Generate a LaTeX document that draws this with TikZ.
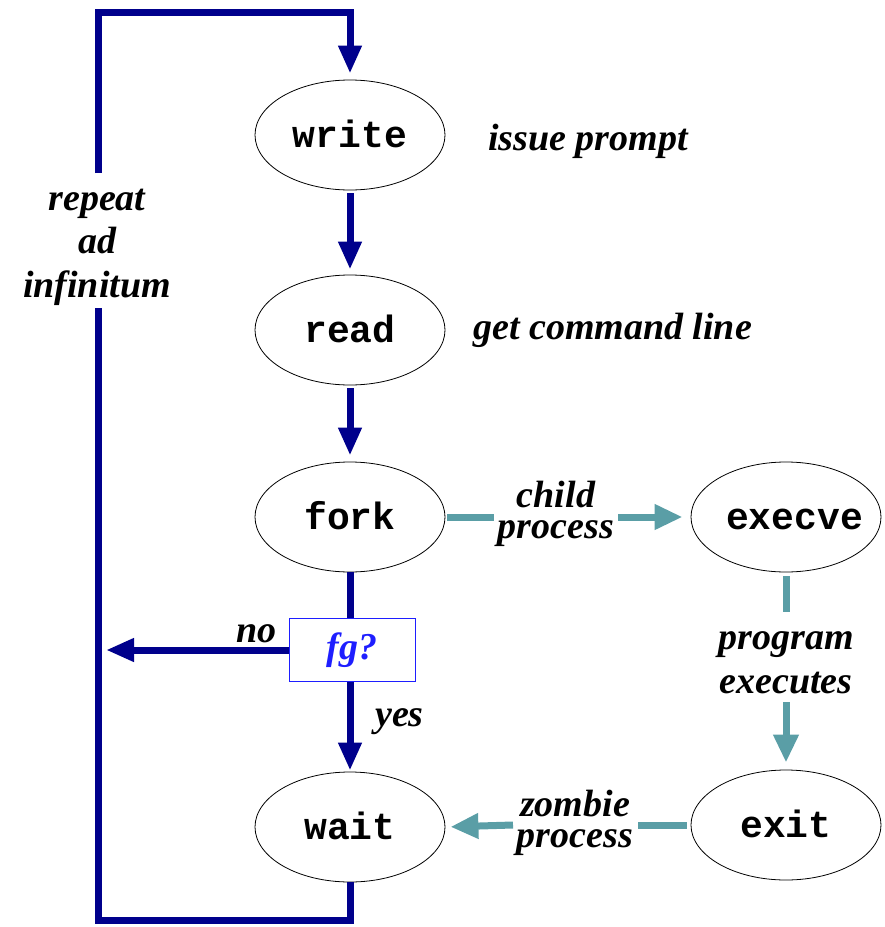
\documentclass[tikz,border=0pt]{standalone}
\usepackage{fontspec}
\setmainfont{Liberation Serif}
\newfontfamily\codefont{Liberation Mono}
\usetikzlibrary{arrows.meta,shapes.geometric}
\definecolor{loopblue}{RGB}{0,0,140}
\definecolor{tealc}{RGB}{90,158,166}
\definecolor{fgblue}{RGB}{30,30,255}
\begin{document}
\begin{tikzpicture}[x=1pt,y=-1pt,
  proc/.style={ellipse, draw=black, line width=0.8pt, minimum width=190pt, minimum height=110pt,
    inner sep=0pt, text width=120pt, align=center, text height=24pt, text depth=0pt,
    font=\codefont\bfseries\fontsize{38}{44}\selectfont},
  lbl/.style={font=\bfseries\itshape\fontsize{38}{43.5}\selectfont, align=center, inner sep=0pt},
  tightlbl/.style={font=\bfseries\itshape\fontsize{38}{31}\selectfont, align=center, inner sep=0pt},
  blueline/.style={draw=loopblue, line width=7pt, line join=miter},
  bluearrow/.style={blueline, -{Triangle[length=28pt,width=22pt]}},
  tealline/.style={draw=tealc, line width=7pt},
  tealarrow/.style={tealline, -{Triangle[length=28pt,width=24pt]}},
  question/.style={draw=fgblue, line width=1pt, minimum width=126pt, minimum height=63pt, inner sep=0pt,
    text=fgblue, font=\bfseries\itshape\fontsize{38}{44}\selectfont}
]
\useasboundingbox (0,0) rectangle (885,927);

% process nodes
\node[proc] (write)  at (350,135) {write};
\node[proc] (read)   at (350,330) {read};
\node[proc] (fork)   at (350,517) {fork};
\node[proc] (wait)   at (350,827) {wait};
\node[proc] (execve) at (786,517) {execve};
\node[proc] (exit)   at (786,825) {exit};
\node[question] (fg) at (352,650) {fg?};

% helper coordinates
\coordinate (lbot) at (98,920);
\coordinate (ltop) at (98,12);
\coordinate (gapb) at (98,308);
\coordinate (gapt) at (98,173);
\coordinate (noend) at (106,650);
\coordinate (ch1) at (494,517);
\coordinate (ch2) at (618,517);
\coordinate (pg1) at (786,612);
\coordinate (pg2) at (786,702);
\coordinate (zb1) at (638,825);
\coordinate (zb2) at (513,825);

% main loop
\draw[blueline] (wait.south) |- (lbot) -- (gapb);
\draw[bluearrow, shorten >=6pt] (gapt) -- (ltop) -| (write.north);
\draw[bluearrow, shorten <=3pt, shorten >=5pt] (write.south) -- (read.north);
\draw[bluearrow, shorten <=3pt, shorten >=6pt] (read.south) -- (fork.north);
\draw[blueline] (fork.south) -- (fork.south |- fg.north);
\draw[bluearrow, shorten >=1pt] (wait.north |- fg.south) -- (wait.north);
\draw[bluearrow] (fg.west) -- (noend);

% teal connectors
\draw[tealline, shorten <=2pt] (fork.east) -- (ch1);
\draw[tealarrow, shorten >=8pt] (ch2) -- (execve.west);
\draw[tealline, shorten <=4pt] (execve.south) -- (pg1);
\draw[tealarrow, shorten >=7pt] (pg2) -- (exit.north);
\draw[tealline, shorten <=4pt] (exit.west) -- (zb1);
\draw[tealarrow, shorten >=5pt] (zb2) -- (wait.east);

% labels
\node[lbl] (rep) at (97,247) {repeat\\ad\\infinitum};
\node[lbl, anchor=base west] (issue) at (488,150) {issue prompt};
\node[lbl, anchor=base west] (getcl) at (473,339) {get command line};
\node[tightlbl] (child) at (556,514) {child\\process};
\node[lbl] (prog) at (786,663) {program\\executes};
\node[tightlbl] (zomb) at (575,823) {zombie\\process};
\node[lbl, anchor=base east] (no) at (277,642) {no};
\node[lbl, anchor=base west] (yes) at (375,726) {yes};
\end{tikzpicture}
\end{document}
